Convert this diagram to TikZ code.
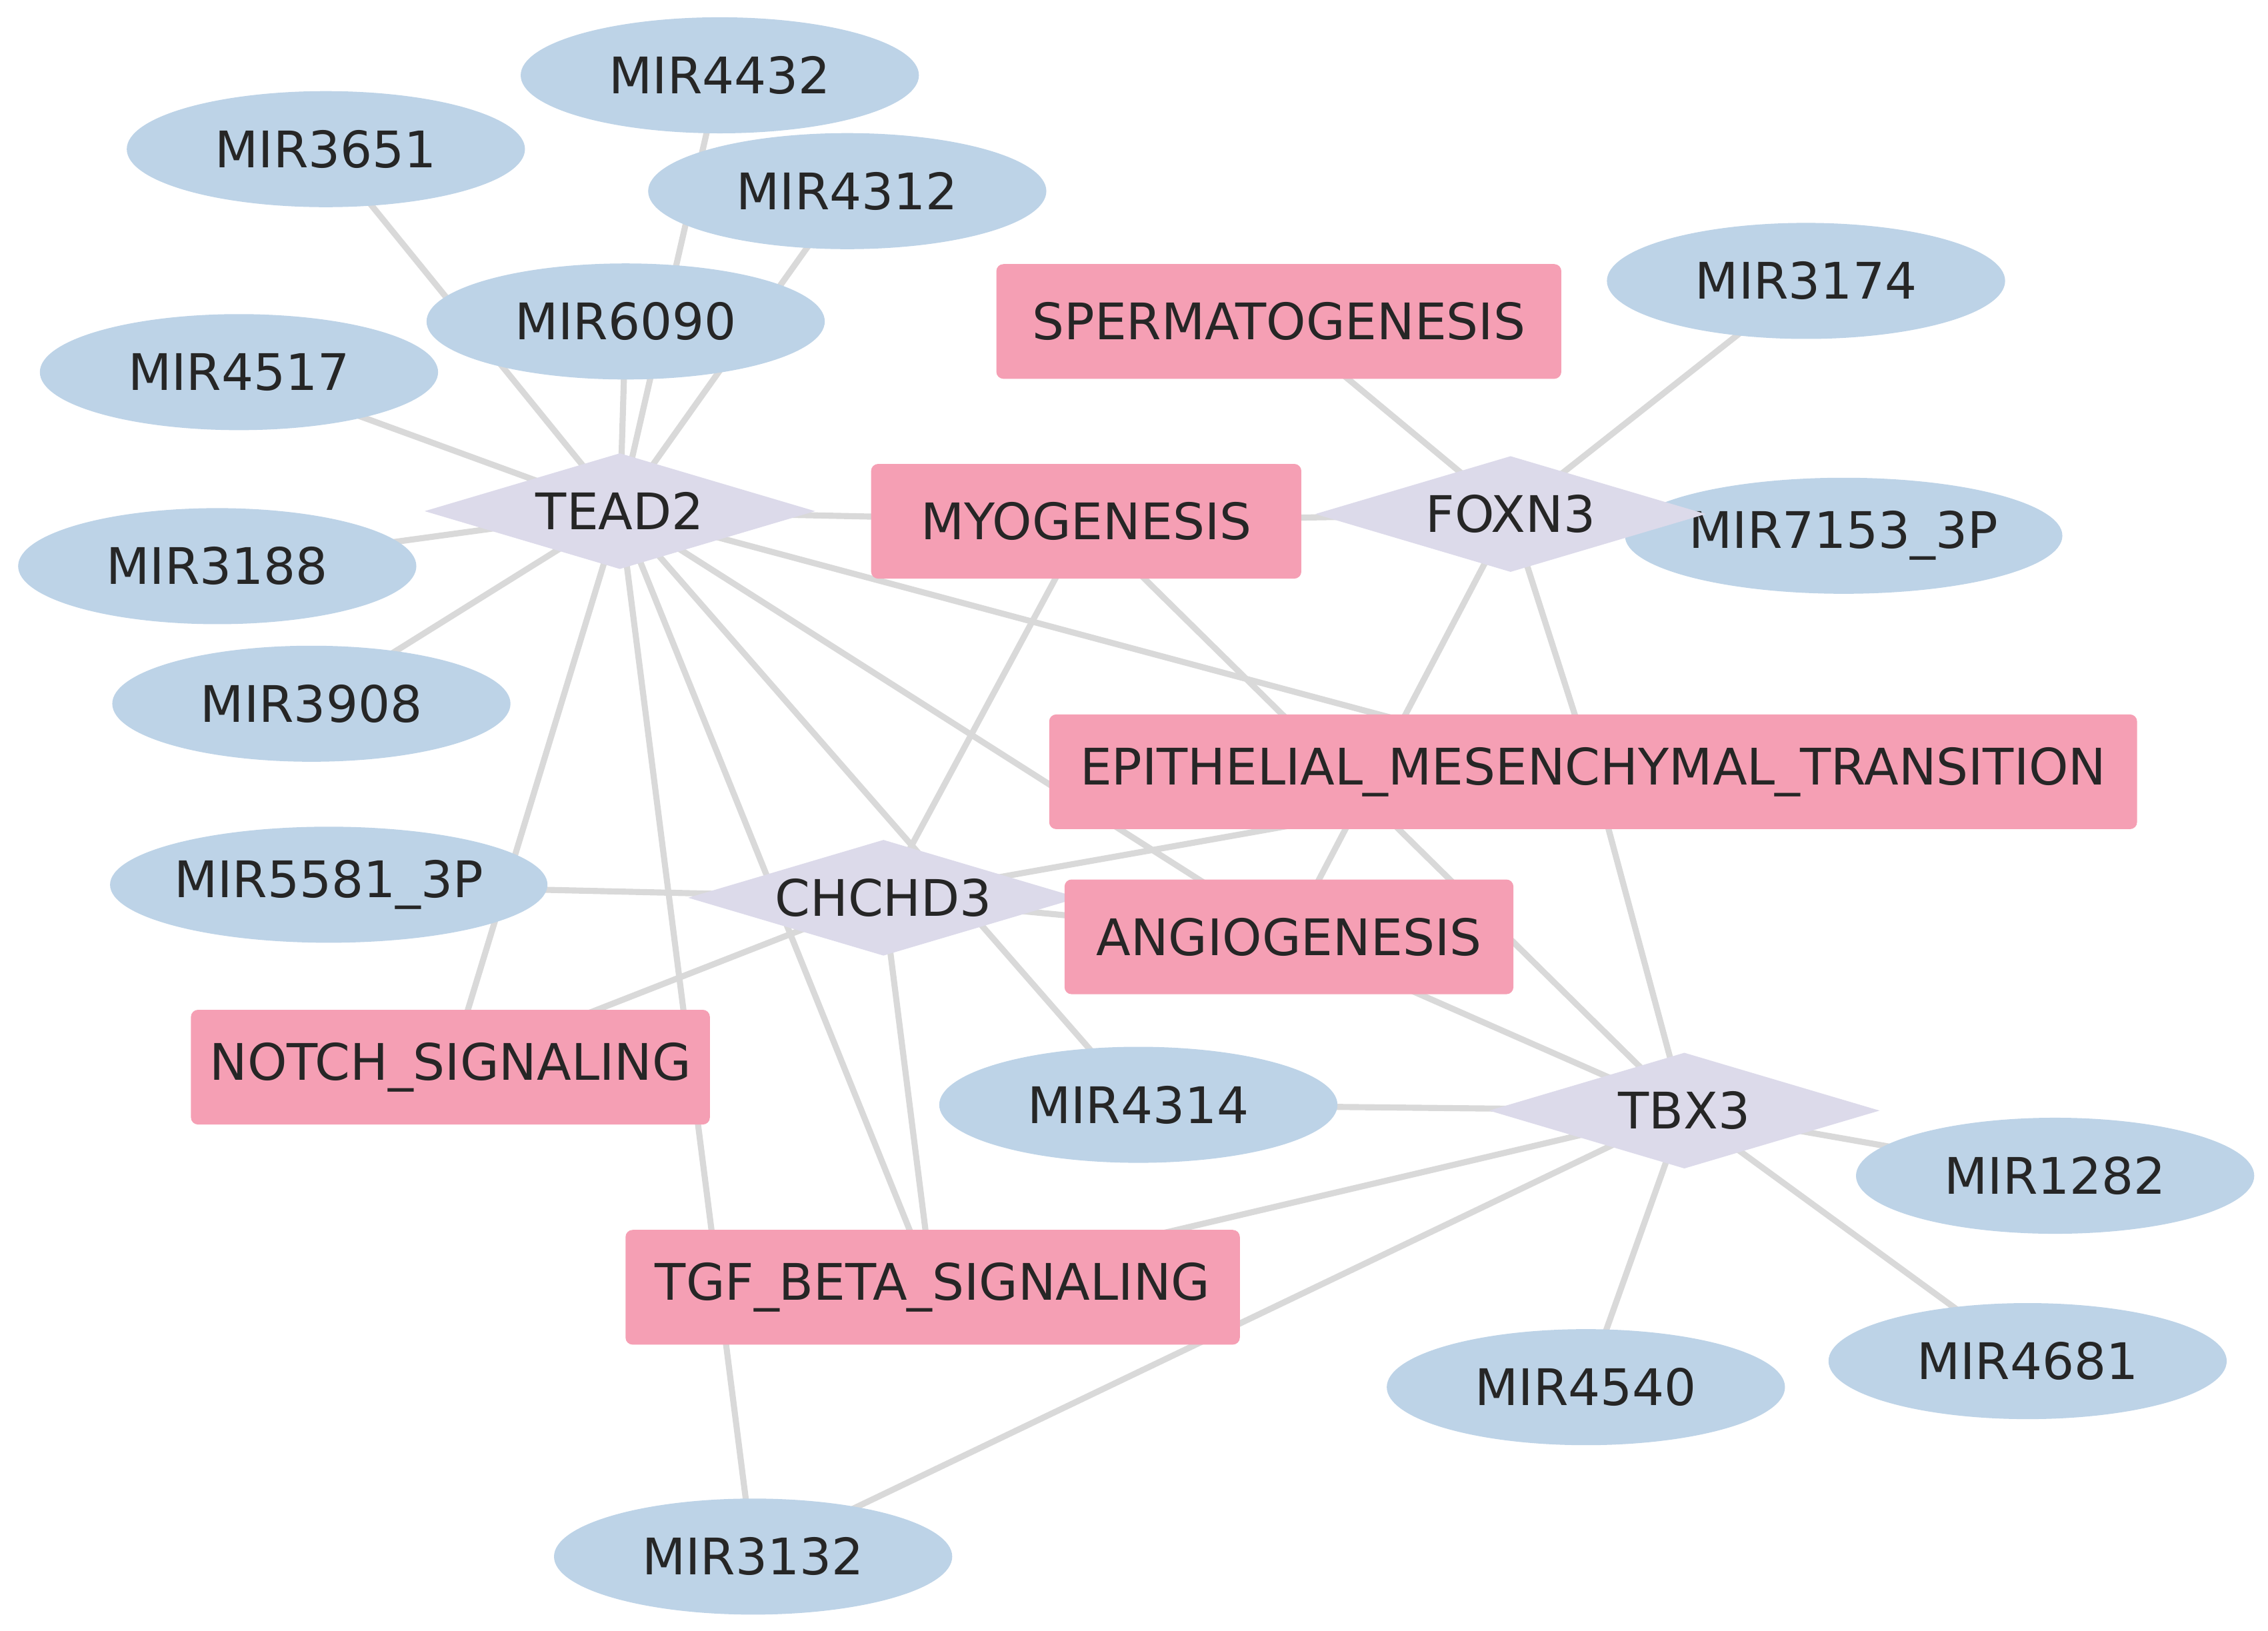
\documentclass[tikz,border=0pt]{standalone}
\usepackage{fontspec}
\setmainfont{DejaVu Sans}
\usetikzlibrary{shapes.geometric,backgrounds}
\definecolor{mirc}{HTML}{BDD3E7}
\definecolor{genc}{HTML}{DCDAEA}
\definecolor{pathc}{HTML}{F59FB4}
\definecolor{edgec}{HTML}{D9D9D9}
\begin{document}
\begin{tikzpicture}[x=0.02172cm,y=-0.02172cm,
  every node/.style={font=\fontsize{21.5}{24}\selectfont,text=black!85},
  mir/.style={ellipse,fill=mirc,minimum width=5.97cm,minimum height=1.74cm,inner sep=0pt},
  gene/.style={diamond,fill=genc,minimum width=5.86cm,minimum height=1.74cm,inner sep=0pt,aspect=3},
  path/.style={rectangle,rounded corners=3pt,fill=pathc,minimum height=1.72cm,inner sep=0pt},
  link/.style={draw=edgec,line width=2.6pt}]
\useasboundingbox (0,0) rectangle (1566,1126);
\node[mir] (m4432) at (497,52) {MIR4432};
\node[mir] (m3651) at (225,103) {MIR3651};
\node[mir] (m4312) at (585,132) {MIR4312};
\node[mir] (m6090) at (432,222) {MIR6090};
\node[mir] (m4517) at (165,257) {MIR4517};
\node[mir] (m3188) at (150,391) {MIR3188};
\node[mir] (m3908) at (215,486) {MIR3908};
\node[mir] (m5581) at (227,611) {MIR5581\_3P};
\node[mir] (m3174) at (1247,194) {MIR3174};
\node[mir] (m7153) at (1273,370) {MIR7153\_3P};
\node[mir] (m4314) at (786,763) {MIR4314};
\node[mir] (m1282) at (1419,812) {MIR1282};
\node[mir] (m4681) at (1400,940) {MIR4681};
\node[mir] (m4540) at (1095,958) {MIR4540};
\node[mir] (m3132) at (520,1075) {MIR3132};
\node[gene] (tead2) at (428,353) {TEAD2};
\node[gene] (foxn3) at (1043,355) {FOXN3};
\node[gene] (chchd3) at (610,620) {CHCHD3};
\node[gene] (tbx3) at (1163,767) {TBX3};
\node[path,minimum width=8.47cm] (sperm) at (883,222) {SPERMATOGENESIS};
\node[path,minimum width=6.45cm] (myo) at (750,360) {MYOGENESIS};
\node[path,minimum width=16.31cm] (emt) at (1100,533) {EPITHELIAL\_MESENCHYMAL\_TRANSITION};
\node[path,minimum width=6.73cm] (angio) at (890,647) {ANGIOGENESIS};
\node[path,minimum width=7.78cm] (notch) at (311,737) {NOTCH\_SIGNALING};
\node[path,minimum width=9.21cm] (tgf) at (644,889) {TGF\_BETA\_SIGNALING};
\begin{scope}[on background layer]
\foreach \a/\b in {m3651/tead2,m4432/tead2,m4312/tead2,m6090/tead2,m4517/tead2,m3188/tead2,m3908/tead2,
  tead2/myo,tead2/emt,tead2/angio,tead2/m4314,tead2/notch,tead2/tgf,tead2/m3132,
  myo/foxn3,myo/chchd3,myo/tbx3,sperm/foxn3,foxn3/m3174,foxn3/m7153,foxn3/emt,foxn3/angio,
  chchd3/emt,emt/tbx3,angio/tbx3,chchd3/m5581,chchd3/angio,chchd3/notch,chchd3/tgf,
  tbx3/m4314,tbx3/m1282,tbx3/m4681,tbx3/m4540,tbx3/tgf,tbx3/m3132}
  \draw[link] (\a.center) -- (\b.center);
\end{scope}
\end{tikzpicture}
\end{document}
